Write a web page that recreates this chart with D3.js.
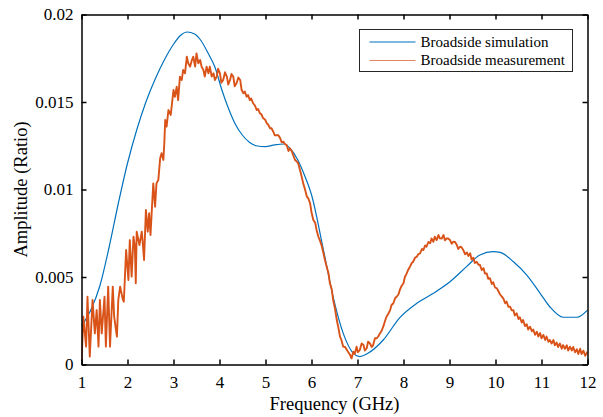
<!DOCTYPE html>
<html>
<head>
<meta charset="utf-8">
<script src="https://cdn.jsdelivr.net/npm/d3@7"></script>
<style>
  body { margin: 0; background: #fff; }
</style>
</head>
<body>
<div id="chart"></div>
<script>
var serif = '"Liberation Serif", "Times New Roman", serif';

// simulated broadside amplitude (smooth curve)
var simFreq = [1, 1.2, 1.4, 1.6, 1.8, 2.0, 2.2, 2.4, 2.6, 2.8, 3.0, 3.15, 3.3, 3.45, 3.6, 3.75, 3.9,
  4.05, 4.2, 4.35, 4.5, 4.65, 4.8, 5.0, 5.2, 5.4, 5.55, 5.7, 5.85, 6.0, 6.26, 6.47, 6.69, 6.91, 7.05, 7.2, 7.56,
  7.92, 8.29, 8.65, 9.01, 9.37, 9.66, 9.95, 10.1, 10.39, 10.68, 10.97, 11.18, 11.47, 11.77, 12];
var simAmp = [0.0022, 0.0031, 0.0045, 0.0067, 0.0092, 0.0115, 0.0134, 0.0150, 0.0163, 0.0174, 0.0183, 0.0188, 0.0190, 0.0189, 0.0185, 0.0178, 0.0170,
  0.0157, 0.0146, 0.0137, 0.0131, 0.0127, 0.0125, 0.01245, 0.01255, 0.0126, 0.0123, 0.0117, 0.0108, 0.0097, 0.00654, 0.00387, 0.00178, 0.00064, 0.00045, 0.0006, 0.0014,
  0.00268, 0.0035, 0.00407, 0.00473, 0.00559, 0.00626, 0.00645, 0.00641, 0.00587, 0.00511, 0.00407, 0.0033, 0.0027, 0.0027, 0.00311];

var measFreq = [1.00, 1.04, 1.10, 1.13, 1.18, 1.24, 1.29, 1.33, 1.37, 1.40, 1.44, 1.50, 1.53, 1.58, 1.62, 1.68, 1.71, 1.77, 1.80, 1.84,
  1.90, 1.92, 1.97, 2.02, 2.05, 2.09, 2.13, 2.16, 2.18, 2.20, 2.26, 2.31, 2.33, 2.36, 2.40, 2.44, 2.47, 2.50, 2.56, 2.60,
  2.63, 2.67, 2.71, 2.74, 2.78, 2.80, 2.82, 2.85, 2.89, 2.94, 3.00, 3.03, 3.07, 3.10, 3.14, 3.18, 3.21, 3.25, 3.29, 3.32,
  3.36, 3.40, 3.43, 3.47, 3.50, 3.54, 3.58, 3.61, 3.65, 3.68, 3.72, 3.76, 3.79, 3.83, 3.87, 3.90, 3.94, 3.97, 4.01, 4.04,
  4.08, 4.12, 4.16, 4.19, 4.23, 4.26, 4.30, 4.33, 4.37, 4.41, 4.45, 4.48, 4.52, 4.55, 4.59, 4.62, 4.66, 4.69, 4.73, 4.77,
  4.81, 4.84, 4.88, 4.91, 4.95, 4.99, 5.03, 5.06, 5.10, 5.13, 5.17, 5.20, 5.24, 5.28, 5.32, 5.35, 5.39, 5.42, 5.46, 5.50,
  5.53, 5.57, 5.60, 5.64, 5.68, 5.71, 5.75, 5.78, 5.82, 5.86, 5.90, 5.93, 5.97, 6.00, 6.04, 6.08, 6.11, 6.15, 6.18, 6.22,
  6.26, 6.29, 6.33, 6.37, 6.40, 6.44, 6.47, 6.51, 6.55, 6.58, 6.62, 6.65, 6.69, 6.73, 6.77, 6.80, 6.84, 6.87, 6.91, 6.94,
  6.98, 7.01, 7.05, 7.09, 7.13, 7.16, 7.20, 7.23, 7.27, 7.31, 7.34, 7.38, 7.42, 7.45, 7.49, 7.52, 7.56, 7.60, 7.63, 7.67,
  7.71, 7.74, 7.78, 7.82, 7.85, 7.89, 7.92, 7.96, 8.00, 8.03, 8.07, 8.10, 8.14, 8.18, 8.21, 8.25, 8.29, 8.32, 8.36, 8.40,
  8.43, 8.47, 8.50, 8.54, 8.58, 8.61, 8.65, 8.68, 8.72, 8.76, 8.79, 8.83, 8.87, 8.90, 8.94, 8.97, 9.01, 9.05, 9.08, 9.12,
  9.16, 9.19, 9.23, 9.26, 9.30, 9.34, 9.38, 9.41, 9.45, 9.48, 9.52, 9.55, 9.59, 9.63, 9.66, 9.70, 9.74, 9.77, 9.81, 9.84,
  9.88, 9.92, 9.95, 9.99, 10.03, 10.06, 10.10, 10.13, 10.17, 10.21, 10.24, 10.28, 10.32, 10.35, 10.39, 10.42, 10.46, 10.50, 10.53, 10.57,
  10.60, 10.64, 10.68, 10.71, 10.75, 10.79, 10.82, 10.86, 10.90, 10.93, 10.97, 11.00, 11.04, 11.08, 11.11, 11.15, 11.18, 11.22, 11.26, 11.29,
  11.33, 11.36, 11.40, 11.44, 11.47, 11.51, 11.55, 11.58, 11.62, 11.66, 11.69, 11.73, 11.77, 11.80, 11.84, 11.87, 11.91, 11.95, 12.00];
var measAmp = [0.0001, 0.00273, 0.00102, 0.00387, 0.00045, 0.00369, 0.00178, 0.00311, 0.00102, 0.00369, 0.00178, 0.00387, 0.00102, 0.00445, 0.00102, 0.00445, 0.00273, 0.00159, 0.00369, 0.00445,
  0.00369, 0.00359, 0.00654, 0.00483, 0.00711, 0.00502, 0.0073, 0.00673, 0.00464, 0.00759, 0.00683, 0.00759, 0.00702, 0.00597, 0.00883, 0.00759, 0.00864, 0.0074, 0.01035, 0.00902,
  0.01035, 0.01054, 0.01178, 0.01207, 0.01169, 0.01264, 0.01397, 0.01359, 0.01454, 0.01426, 0.01569, 0.0153, 0.01587, 0.01511, 0.01645, 0.01626, 0.01683, 0.01664, 0.01759, 0.01721,
  0.01702, 0.0174, 0.01759, 0.01702, 0.01778, 0.01721, 0.0174, 0.01702, 0.01683, 0.01645, 0.01702, 0.01664, 0.01702, 0.01645, 0.01664, 0.01626, 0.01645, 0.0169, 0.01664, 0.0161,
  0.01626, 0.0167, 0.01645, 0.0160, 0.01626, 0.0166, 0.01645, 0.0159, 0.01607, 0.0164, 0.01626, 0.0157, 0.0155, 0.0156, 0.0153, 0.0154, 0.01511, 0.0152, 0.01493, 0.0148,
  0.01454, 0.0146, 0.01435, 0.0143, 0.01407, 0.0140, 0.01378, 0.0137, 0.0135, 0.0135, 0.0133, 0.0131, 0.01311, 0.0131, 0.01293, 0.0127, 0.01273, 0.0126, 0.01254, 0.0122,
  0.01235, 0.0122, 0.01197, 0.0117, 0.01159, 0.0115, 0.01111, 0.0108, 0.01035, 0.0100, 0.00959, 0.0095, 0.00921, 0.0087, 0.00826, 0.0081, 0.00769, 0.0073, 0.00711, 0.0068,
  0.00635, 0.0060, 0.00559, 0.0052, 0.00464, 0.0043, 0.00369, 0.0032, 0.00254, 0.00216, 0.00159, 0.0014, 0.00102, 0.0010, 0.00083, 0.0007, 0.00054, 0.00035, 0.00073, 0.0006,
  0.00102, 0.0007, 0.00083, 0.0012, 0.00111, 0.0008, 0.00093, 0.0013, 0.00121, 0.0010, 0.00111, 0.0015, 0.0015, 0.0016, 0.00178, 0.0019, 0.00216, 0.0025, 0.00273, 0.0029,
  0.00311, 0.0034, 0.0035, 0.0038, 0.00387, 0.0040, 0.00426, 0.0045, 0.00464, 0.0050, 0.00521, 0.0054, 0.00559, 0.0058, 0.00587, 0.0061, 0.00616, 0.0063, 0.00635, 0.0066,
  0.00654, 0.0068, 0.00673, 0.0070, 0.00693, 0.0072, 0.00702, 0.0073, 0.00711, 0.0074, 0.00721, 0.0072, 0.0074, 0.0071, 0.00721, 0.0072, 0.00711, 0.0069, 0.00702, 0.0070,
  0.00683, 0.0066, 0.00673, 0.0067, 0.00654, 0.0063, 0.0064, 0.0062, 0.00635, 0.0060, 0.0061, 0.0058, 0.00587, 0.0057, 0.0057, 0.0054, 0.0055, 0.0052, 0.0052, 0.0049,
  0.00493, 0.0046, 0.0047, 0.0044, 0.00435, 0.0042, 0.0040, 0.0039, 0.00378, 0.0035, 0.0036, 0.0033, 0.0033, 0.0031, 0.0031, 0.0028, 0.00293, 0.0026, 0.0027, 0.0024,
  0.00254, 0.0022, 0.0023, 0.0020, 0.00216, 0.0019, 0.0020, 0.0017, 0.00187, 0.0016, 0.0018, 0.0015, 0.00169, 0.0014, 0.0016, 0.0013, 0.0014, 0.0012, 0.0014, 0.0011,
  0.00125, 0.0010, 0.0012, 0.0009, 0.00111, 0.0009, 0.0011, 0.0008, 0.00102, 0.0008, 0.0010, 0.0007, 0.00087, 0.0006, 0.0009, 0.0006, 0.00079, 0.0005, 0.00073];

var xTicks = [1, 2, 3, 4, 5, 6, 7, 8, 9, 10, 11, 12];
var yTicks = [0, 0.005, 0.01, 0.015, 0.02];
var yTickLabels = ["0", "0.005", "0.01", "0.015", "0.02"];
var seriesNames = ["Broadside simulation", "Broadside measurement"];
var seriesColors = ["#0072BD", "#D95319"];

var width = 603, height = 417;
var margin = {top: 14.5, right: 15.5, bottom: 52.5, left: 81.5};
var plotW = width - margin.left - margin.right;
var plotH = height - margin.top - margin.bottom;

var svg = d3.select('#chart').append('svg')
  .attr('width', width)
  .attr('height', height)
  .style('font-family', serif);

var x = d3.scaleLinear().domain([1, 12]).range([0, plotW]);
var y = d3.scaleLinear().domain([0, 0.02]).range([plotH, 0]);

var g = svg.append('g').attr('transform', 'translate(' + margin.left + ',' + margin.top + ')');

g.append('clipPath').attr('id', 'clip')
  .append('rect').attr('width', plotW).attr('height', plotH);

var simLine = d3.line()
  .x(function(d){ return x(d[0]); })
  .y(function(d){ return y(d[1]); })
  .curve(d3.curveMonotoneX);
var measLine = d3.line()
  .x(function(d){ return x(d[0]); })
  .y(function(d){ return y(d[1]); });

var simData = simFreq.map(function(f, i){ return [f, simAmp[i]]; });
var measData = measFreq.map(function(f, i){ return [f, measAmp[i]]; });

var lines = g.append('g').attr('clip-path', 'url(#clip)');
lines.append('path').datum(simData)
  .attr('d', simLine)
  .attr('fill', 'none')
  .attr('stroke', seriesColors[0])
  .attr('stroke-width', 1.2);
lines.append('path').datum(measData)
  .attr('d', measLine)
  .attr('fill', 'none')
  .attr('stroke', seriesColors[1])
  .attr('stroke-width', 1.9)
  .attr('stroke-linejoin', 'round');

// axes, ticks pointing inward, mirrored on top and right
var fmtY = function(d){ return yTickLabels[yTicks.indexOf(d)]; };

var xAxis = g.append('g').attr('transform', 'translate(0,' + plotH + ')')
  .call(d3.axisBottom(x).tickValues(xTicks).tickSizeInner(-5).tickSizeOuter(0).tickPadding(11));
var yAxis = g.append('g')
  .call(d3.axisLeft(y).tickValues(yTicks).tickFormat(fmtY).tickSizeInner(-5).tickSizeOuter(0).tickPadding(8));
var topAxis = g.append('g')
  .call(d3.axisTop(x).tickValues(xTicks).tickSizeInner(-5).tickSizeOuter(0).tickFormat(''));
var rightAxis = g.append('g').attr('transform', 'translate(' + plotW + ',0)')
  .call(d3.axisRight(y).tickValues(yTicks).tickSizeInner(-5).tickSizeOuter(0).tickFormat(''));

[xAxis, yAxis, topAxis, rightAxis].forEach(function(a){
  a.attr('font-family', serif).attr('font-size', 17);
  a.selectAll('path').attr('stroke', '#000').attr('stroke-width', 1.5);
  a.selectAll('line').attr('stroke', '#000').attr('stroke-width', 1.5);
  a.selectAll('text').style('font-family', serif).style('font-size', '17px').attr('fill', '#000');
});

svg.append('text')
  .attr('x', margin.left + plotW/2)
  .attr('y', 410)
  .attr('text-anchor', 'middle')
  .style('font-family', serif)
  .style('font-size', '18.5px')
  .text('Frequency (GHz)');

svg.append('text')
  .attr('transform', 'translate(27,' + (margin.top + plotH/2) + ') rotate(-90)')
  .attr('text-anchor', 'middle')
  .style('font-family', serif)
  .style('font-size', '18.5px')
  .text('Amplitude (Ratio)');

// legend
var legend = svg.append('g').attr('transform', 'translate(359.5,29.5)');
legend.append('rect')
  .attr('width', 213)
  .attr('height', 42)
  .attr('fill', '#fff')
  .attr('stroke', '#262626')
  .attr('stroke-width', 1);

seriesNames.forEach(function(name, i){
  var ly = 12.5 + i*18.5;
  legend.append('line')
    .attr('x1', 10).attr('x2', 56)
    .attr('y1', ly).attr('y2', ly)
    .attr('stroke', seriesColors[i])
    .attr('stroke-opacity', i == 1 ? 0.7 : 1)
    .attr('stroke-width', 1.2);
  legend.append('text')
    .attr('x', 61)
    .attr('y', ly)
    .attr('dy', '0.33em')
    .style('font-family', serif)
    .style('font-size', '15px')
    .text(name);
});
</script>
</body>
</html>
